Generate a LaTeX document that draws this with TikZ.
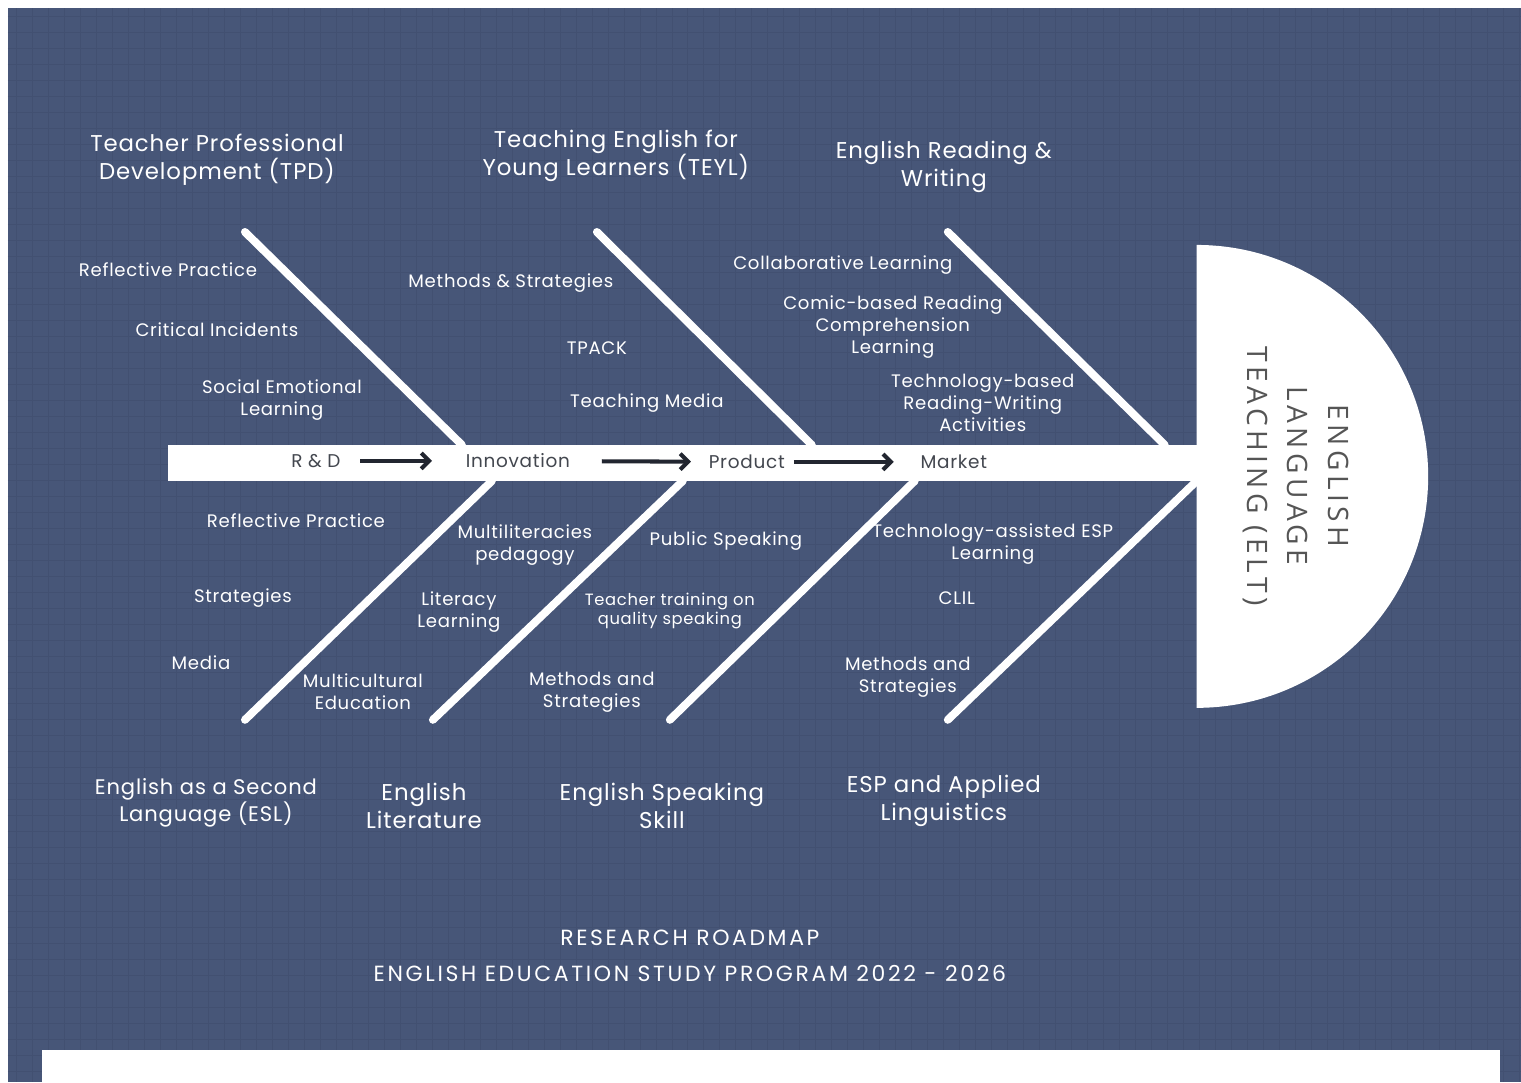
\documentclass[tikz,border=0pt]{standalone}
\usepackage{fontspec}
\setmainfont{Poppins}[LetterSpace=4]
\newfontfamily\eltfont[LetterSpace=16]{Open Sans}
\newfontfamily\capsfont[LetterSpace=12]{Poppins}
\usetikzlibrary{arrows.meta}
\definecolor{navy}{RGB}{71,86,120}
\definecolor{gridline}{RGB}{66,80,113}
\definecolor{inkdark}{RGB}{34,38,48}
\definecolor{eltgray}{RGB}{85,85,85}

\begin{document}
\begin{tikzpicture}[x=0.02cm,y=-0.02cm,
cat/.style={text=white,align=center,inner sep=0pt,font=\fontsize{13}{16}\selectfont},
cause/.style={text=white,align=center,inner sep=0pt,font=\fontsize{10.3}{12.5}\selectfont},
small/.style={cause,font=\fontsize{9.3}{11}\selectfont},
stage/.style={text=inkdark!85,inner sep=0pt,font=\fontsize{10.5}{12}\selectfont},
bone/.style={white,line width=4.5pt,line cap=round},
flow/.style={inkdark,line width=2.3pt,-{Straight Barb[length=4.5pt,width=9pt]}},
]
% background and grid
\fill[white] (0,0) rectangle (1521,1082);
\fill[navy] (8,8) rectangle (1521,1082);
\foreach \gx in {16,32,...,1520} \draw[gridline,line width=0.4pt] (\gx,8) -- (\gx,1082);
\foreach \gy in {16,32,...,1080} \draw[gridline,line width=0.4pt] (8,\gy) -- (1521,\gy);
\fill[white] (42,1050) rectangle (1500,1082);

% spine and head
\fill[white] (168,445) rectangle (1200,481);
\fill[white] (1197,245) arc[start angle=-90,end angle=90,radius=231.5] -- cycle;
\node[rotate=-90,align=center,text=eltgray,inner sep=0pt,
  font=\eltfont\fontsize{16}{23}\selectfont] (elt) at (1296,476)
  {ENGLISH\\LANGUAGE\\TEACHING (ELT)};

% bones
\foreach \tx/\bx in {245/462,597/812,948/1165}
  \draw[bone] (\tx,232) -- (\bx,445);
\foreach \tx/\bx in {492/245,683/433,915/670,1197/948}
  \draw[bone] (\tx,481) -- (\bx,720);

% spine stages
\node[stage] (rd) at (316,461) {R \& D};
\node[stage] (innov) at (518,461) {Innovation};
\node[stage] (prod) at (747,462) {Product};
\node[stage] (mkt) at (954,462) {Market};
\draw[flow,shorten <=11pt,shorten >=19pt] (rd) -- (innov);
\draw[flow,shorten <=18pt,shorten >=10pt] (innov) -- (prod);
\draw[flow,shorten <=5pt,shorten >=15pt] (prod) -- (mkt);

% categories
\node[cat] (tpd) at (217,160) {Teacher Professional\\Development (TPD)};
\node[cat] (teyl) at (616,156) {Teaching English for\\Young Learners (TEYL)};
\node[cat] (erw) at (944,167) {English Reading \&\\Writing};
\node[cat,font=\fontsize{12}{15}\selectfont] (esl) at (206,803) {English as a Second\\Language (ESL)};
\node[cat] (lit) at (424,806) {English\\Literature};
\node[cat] (spk) at (662,806) {English Speaking\\Skill};
\node[cat] (esp) at (944,801) {ESP and Applied\\Linguistics};

% causes, upper
\node[cause] (tpd1) at (168,270) {Reflective Practice};
\node[cause] (tpd2) at (217,330) {Critical Incidents};
\node[cause] (tpd3) at (282,400) {Social Emotional\\Learning};
\node[cause] (teyl1) at (511,283) {Methods \& Strategies};
\node[cause] (teyl2) at (597,348) {TPACK};
\node[cause] (teyl3) at (647,403) {Teaching Media};
\node[cause] (erw1) at (843,265) {Collaborative Learning};
\node[cause] (erw2) at (893,327) {Comic-based Reading\\Comprehension\\Learning};
\node[cause] (erw3) at (983,403) {Technology-based\\Reading-Writing\\Activities};

% causes, lower
\node[cause] (esl1) at (296,521) {Reflective Practice};
\node[cause] (esl2) at (243,598) {Strategies};
\node[cause] (esl3) at (201,663) {Media};
\node[cause] (lit1) at (363,692) {Multicultural\\Education};
\node[cause] (lit2) at (525,545) {Multiliteracies\\pedagogy};
\node[cause] (lit3) at (459,612) {Literacy\\Learning};
\node[cause] (spk1) at (592,692) {Methods and\\Strategies};
\node[cause] (spk2) at (726,541) {Public Speaking};
\node[small] (spk3) at (670,611) {Teacher training on\\quality speaking};
\node[cause] (esp1) at (993,544) {Technology-assisted ESP\\Learning};
\node[cause] (esp2) at (957,598) {CLIL};
\node[cause] (esp3) at (908,677) {Methods and\\Strategies};

% footer
\node[text=white,align=center,inner sep=0pt,font=\capsfont\fontsize{12.5}{20}\selectfont]
  (foot) at (690,956) {RESEARCH ROADMAP\\ENGLISH EDUCATION STUDY PROGRAM 2022 - 2026};
\end{tikzpicture}
\end{document}
